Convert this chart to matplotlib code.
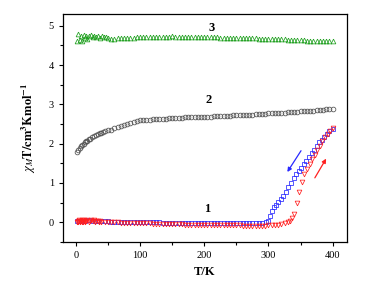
import matplotlib
matplotlib.use("Agg")
import matplotlib.pyplot as plt
from matplotlib.ticker import MultipleLocator

plt.rcParams['font.family'] = ['Liberation Serif', 'DejaVu Serif']
plt.rcParams['mathtext.fontset'] = 'stix'

# Compound 3 (green up-triangles)
T3 = [2, 4, 6, 8, 10, 12, 14, 16, 18, 20, 23, 26, 29, 32, 35, 38, 41, 44, 47, 50,
      55, 60, 65, 70, 75, 80, 85, 90, 95, 100, 105, 110, 115, 120, 125, 130, 135, 140, 145, 150,
      155, 160, 165, 170, 175, 180, 185, 190, 195, 200, 205, 210, 215, 220, 225, 230, 235, 240, 245, 250,
      255, 260, 265, 270, 275, 280, 285, 290, 295, 300, 305, 310, 315, 320, 325, 330, 335, 340, 345, 350,
      355, 360, 365, 370, 375, 380, 385, 390, 395, 400]
chi3 = [4.62, 4.79, 4.64, 4.74, 4.60, 4.77, 4.68, 4.75, 4.66, 4.73, 4.76, 4.71, 4.74, 4.72, 4.75, 4.70, 4.73, 4.72, 4.71, 4.69,
        4.67, 4.67, 4.68, 4.69, 4.69, 4.70, 4.70, 4.70, 4.71, 4.71, 4.71, 4.71, 4.72, 4.72, 4.72, 4.72, 4.72, 4.72, 4.72, 4.73,
        4.72, 4.72, 4.72, 4.72, 4.72, 4.72, 4.72, 4.72, 4.71, 4.71, 4.71, 4.71, 4.71, 4.71, 4.70, 4.70, 4.70, 4.70, 4.70, 4.69,
        4.69, 4.69, 4.69, 4.68, 4.68, 4.68, 4.67, 4.67, 4.67, 4.66, 4.66, 4.66, 4.65, 4.65, 4.65, 4.64, 4.64, 4.64, 4.63, 4.63,
        4.63, 4.62, 4.62, 4.62, 4.61, 4.61, 4.61, 4.60, 4.60, 4.60]

# Compound 2 (dark grey circles)
T2 = [2, 4, 6, 8, 10, 12, 14, 16, 18, 20, 22, 25, 28, 31, 34, 37, 40, 43, 46, 50,
      55, 60, 65, 70, 75, 80, 85, 90, 95, 100, 105, 110, 115, 120, 125, 130, 135, 140, 145, 150,
      155, 160, 165, 170, 175, 180, 185, 190, 195, 200, 205, 210, 215, 220, 225, 230, 235, 240, 245, 250,
      255, 260, 265, 270, 275, 280, 285, 290, 295, 300, 305, 310, 315, 320, 325, 330, 335, 340, 345, 350,
      355, 360, 365, 370, 375, 380, 385, 390, 395, 400]
chi2 = [1.78, 1.84, 1.89, 1.93, 1.97, 2.00, 2.03, 2.06, 2.08, 2.11, 2.13, 2.16, 2.19, 2.22, 2.24, 2.26, 2.28, 2.30, 2.32, 2.34,
        2.35, 2.39, 2.42, 2.45, 2.48, 2.51, 2.53, 2.55, 2.57, 2.59, 2.59, 2.60, 2.61, 2.62, 2.63, 2.63, 2.64, 2.64, 2.65, 2.65,
        2.66, 2.66, 2.66, 2.67, 2.67, 2.67, 2.68, 2.68, 2.68, 2.69, 2.69, 2.69, 2.70, 2.70, 2.70, 2.71, 2.71, 2.71, 2.72, 2.72,
        2.73, 2.73, 2.73, 2.74, 2.74, 2.75, 2.75, 2.76, 2.76, 2.77, 2.77, 2.78, 2.78, 2.79, 2.79, 2.80, 2.80, 2.81, 2.81, 2.82,
        2.83, 2.83, 2.84, 2.84, 2.85, 2.86, 2.86, 2.87, 2.88, 2.89]

# Compound 1, heating (red down-triangles)
T1_heat = [2, 3, 4, 5, 6, 7, 8, 9, 10, 11, 12, 13, 14, 15, 16, 18, 20, 22, 24, 26, 28, 30, 32, 34, 36, 38, 40,
           45, 50, 55, 60, 65, 70, 75, 80, 85, 90, 95, 100, 105, 110, 115, 120, 125, 130, 135, 140, 145, 150,
           155, 160, 165, 170, 175, 180, 185, 190, 195, 200, 205, 210, 215, 220, 225, 230, 235, 240, 245, 250,
           255, 260, 265, 270, 275, 280, 285, 290, 295, 300, 305, 310, 315, 320, 325, 330, 334, 337, 340, 344,
           348, 352, 356, 360, 364, 368, 372, 376, 380, 384, 388, 392, 396, 400]
chi1_heat = [0.02, 0.04, 0.01, 0.05, 0.03, 0.00, 0.04, 0.02, 0.05, 0.01, 0.03, 0.06, 0.02, 0.04, 0.03, 0.05, 0.02, 0.04,
             0.06, 0.03, 0.05, 0.02, 0.03, 0.04, 0.02, 0.03, 0.02,
             0.02, 0.01, 0.01, 0.00, 0.00, -0.01, -0.01, -0.01, -0.02, -0.02, -0.02, -0.03, -0.03, -0.03, -0.03, -0.04,
             -0.04, -0.04, -0.04, -0.05, -0.05, -0.05, -0.05, -0.05, -0.05, -0.06, -0.06, -0.06, -0.06, -0.06, -0.06,
             -0.06, -0.07, -0.07, -0.07, -0.07, -0.07, -0.07, -0.08, -0.08, -0.08, -0.08, -0.08, -0.09, -0.09, -0.09,
             -0.09, -0.10, -0.09, -0.09, -0.09, -0.08, -0.07, -0.07, -0.06, -0.05, -0.03, 0.00, 0.04, 0.10, 0.22, 0.50,
             0.77, 1.02, 1.22, 1.36, 1.48, 1.60, 1.72, 1.84, 1.95, 2.06, 2.16, 2.25, 2.33, 2.41]

# Compound 1, cooling (blue squares)
T1_cool = [2, 5, 10, 15, 20, 25, 30, 35, 40, 45, 50, 55, 60, 65, 70, 75, 80, 85, 90, 95, 100, 105, 110, 115, 120,
           125, 130, 135, 140, 145, 150, 155, 160, 165, 170, 175, 180, 185, 190, 195, 200, 205, 210, 215, 220, 225,
           230, 235, 240, 245, 250, 255, 260, 265, 270, 275, 280, 285, 290, 296, 300, 303, 306, 309, 312, 315, 319,
           323, 327, 331, 335, 339, 343, 347, 351, 355, 359, 363, 367, 371, 375, 379, 383, 387, 391, 395, 400]
chi1_cool = [0.03, 0.04, 0.04, 0.04, 0.05, 0.04, 0.04, 0.03, 0.03, 0.03, 0.03, 0.02, 0.02, 0.02, 0.02, 0.02, 0.01,
             0.01, 0.01, 0.01, 0.01, 0.00, 0.00, 0.00, 0.00, 0.00, 0.00, -0.01, -0.01, -0.01, -0.01, -0.01, -0.01,
             -0.01, -0.02, -0.02, -0.02, -0.02, -0.02, -0.02, -0.02, -0.02, -0.02, -0.03, -0.03, -0.03, -0.03, -0.03,
             -0.03, -0.03, -0.03, -0.03, -0.03, -0.03, -0.03, -0.03, -0.03, -0.02, -0.01, 0.00, 0.04, 0.15, 0.28,
             0.38, 0.45, 0.51, 0.59, 0.68, 0.78, 0.90, 1.01, 1.12, 1.22, 1.31, 1.39, 1.48, 1.57, 1.66, 1.75, 1.85,
             1.95, 2.03, 2.10, 2.18, 2.25, 2.32, 2.38]

labels = ["1", "2", "3"]
label_pos = [(205, 0.33), (207, 3.12), (212, 4.95)]

fig = plt.figure(figsize=(3.77, 2.84), dpi=100)
ax = fig.add_axes([0.167, 0.148, 0.753, 0.803])

ms = 3.4
mew = 0.55
ax.plot(T3, chi3, linestyle='none', marker='^', ms=ms, mew=mew, mfc='none', mec='#1fa01f')
ax.plot(T2, chi2, linestyle='none', marker='o', ms=ms, mew=mew, mfc='none', mec='#505050')
ax.plot(T1_cool, chi1_cool, linestyle='none', marker='s', ms=ms - 0.3, mew=mew, mfc='none', mec='#2828ff')
ax.plot(T1_heat, chi1_heat, linestyle='none', marker='v', ms=ms, mew=mew, mfc='none', mec='#ff2020')

for lab, (x, y) in zip(labels, label_pos):
    ax.text(x, y, lab, fontsize=9, fontweight='bold', ha='center', va='center')

ax.annotate('', xy=(327, 1.22), xytext=(353, 1.88),
            arrowprops=dict(arrowstyle='-|>', color='#2828ff', lw=0.9, mutation_scale=6))
ax.annotate('', xy=(392, 1.68), xytext=(370, 1.07),
            arrowprops=dict(arrowstyle='-|>', color='#ff2020', lw=0.9, mutation_scale=6))

ax.set_xlim(-20, 422)
ax.set_ylim(-0.5, 5.3)
ax.xaxis.set_major_locator(MultipleLocator(100))
ax.xaxis.set_minor_locator(MultipleLocator(50))
ax.yaxis.set_major_locator(MultipleLocator(1))
ax.yaxis.set_minor_locator(MultipleLocator(0.5))
ax.tick_params(which='both', direction='out', labelsize=7.5, width=0.8, top=False, right=False)
ax.tick_params(which='major', length=3)
ax.tick_params(which='minor', length=2)
for s in ax.spines.values():
    s.set_linewidth(0.9)

ax.set_xlabel('T/K', fontsize=9, fontweight='bold', labelpad=4)
ax.set_ylabel(r'$\chi_M\mathbf{T/cm^{3}Kmol^{-1}}$', fontsize=9, labelpad=8)

fig.savefig('out.png', dpi=100)
